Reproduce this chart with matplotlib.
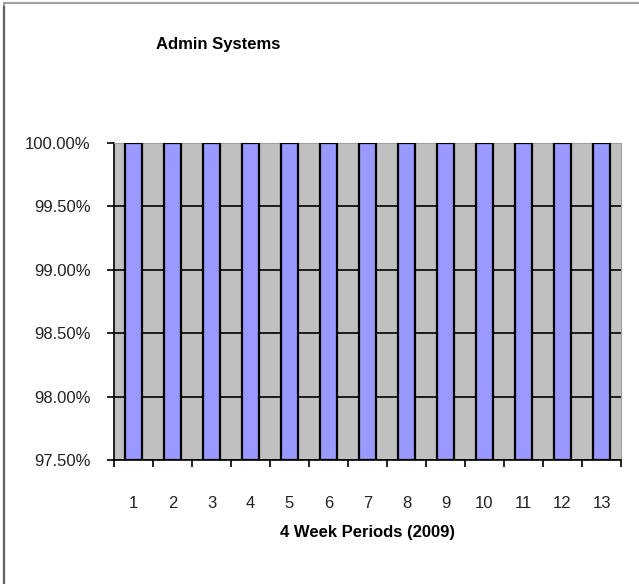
import matplotlib.pyplot as plt
from matplotlib.patches import Rectangle
from matplotlib.ticker import FuncFormatter, FixedLocator

plt.rcParams['font.family'] = ['Liberation Sans Narrow', 'Liberation Sans', 'DejaVu Sans']

# data
periods = [1, 2, 3, 4, 5, 6, 7, 8, 9, 10, 11, 12, 13]
availability = [100.0] * 13
ymin, ymax = 97.5, 100.0
yticks = [97.5, 98.0, 98.5, 99.0, 99.5, 100.0]

fig = plt.figure(figsize=(6.39, 5.84), dpi=100)
ax = fig.add_axes([114/639, 1-460/584, (621-114)/639, (460-143)/584])
ax.set_facecolor('#C0C0C0')

# bars start at the axis floor
heights = [v - ymin for v in availability]
ax.bar(periods, heights, bottom=ymin, width=0.42, color='#9999FF',
       edgecolor='black', linewidth=1.6, zorder=3)

ax.set_xlim(0.5, 13.5)
ax.set_ylim(ymin, ymax)
ax.set_yticks(yticks)
ax.yaxis.set_major_formatter(FuncFormatter(lambda v, p: '%.2f%%' % v))
ax.grid(axis='y', color='black', linewidth=1.2, zorder=1)
ax.set_axisbelow(True)

ax.set_xticks(periods)
ax.set_xticklabels([str(p) for p in periods])
ax.xaxis.set_minor_locator(FixedLocator([p + 0.5 for p in [0] + periods]))
ax.tick_params(axis='x', which='major', length=0, pad=26, labelsize=12, colors='#222222')
ax.tick_params(axis='x', which='minor', length=5, width=1.2, color='black')
ax.tick_params(axis='y', length=5, width=1.2, pad=12, labelsize=12, colors='#222222')
ax.tick_params(axis='y', color='black')

for side in ['left', 'bottom']:
    ax.spines[side].set_color('black')
    ax.spines[side].set_linewidth(1.2)
for side in ['top', 'right']:
    ax.spines[side].set_color('#A0A0A0')
    ax.spines[side].set_linewidth(0.8)

ax.set_xlabel('4 Week Periods (2009)', fontsize=12, fontweight='bold', labelpad=10)
fig.text(218/639, 1-45/584, 'Admin Systems', fontsize=12, fontweight='bold',
         ha='center', va='center')

# outer chart frame
fig.patches.append(Rectangle((4/639, -0.01), 1.0, 1 - 3/584 + 0.01, transform=fig.transFigure,
                             fill=False, edgecolor='#A0A0A0', linewidth=1.5))
fig.patches.append(Rectangle((4/639, -0.01), 0, 1.0, transform=fig.transFigure,
                             fill=False, edgecolor='#606060', linewidth=1.5))

fig.savefig('out.png', dpi=100)
